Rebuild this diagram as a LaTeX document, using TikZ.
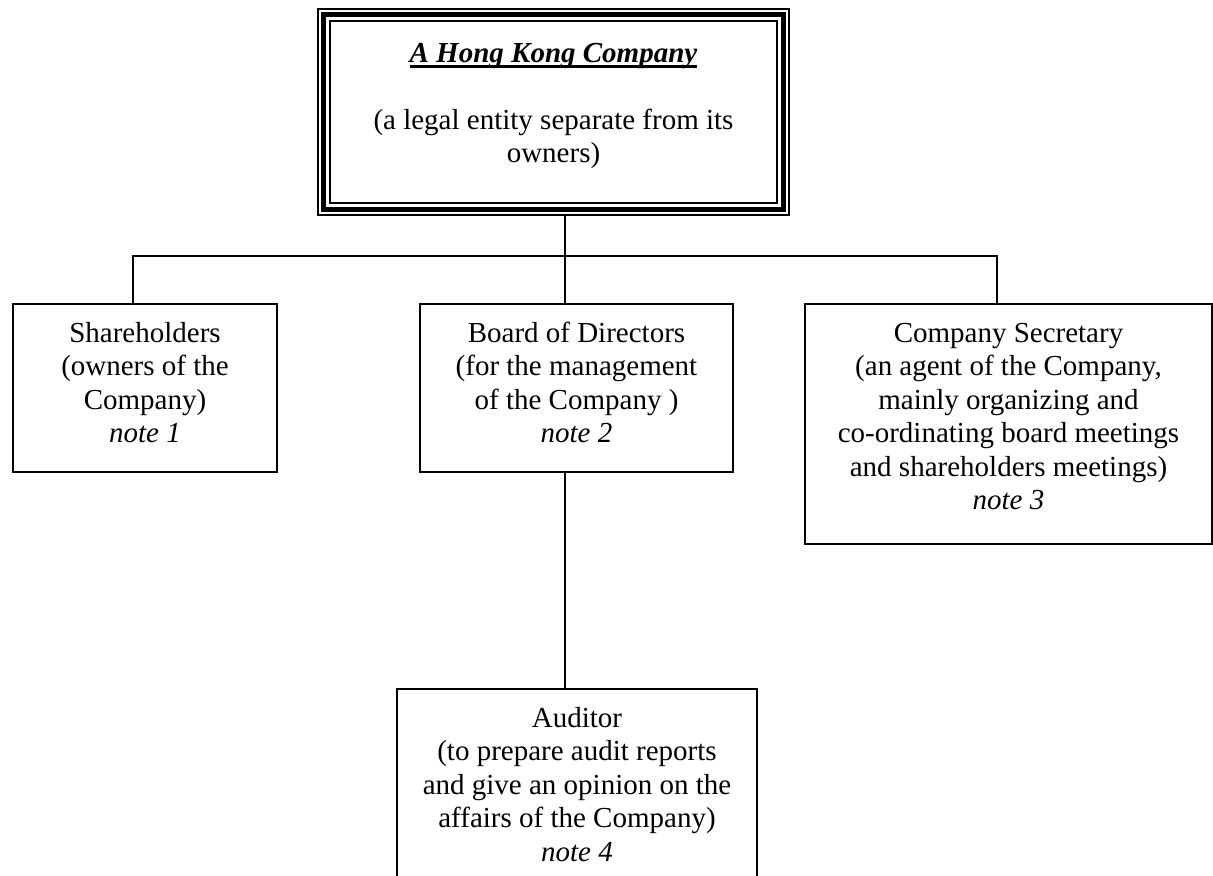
\documentclass[tikz,border=0pt]{standalone}
\usepackage{fontspec}
\setmainfont{Liberation Serif}
\newcommand\hkul[1]{\setbox0\hbox{#1}\rlap{\rule[-2.6pt]{\wd0}{1.3pt}}\box0}
\newcommand\topstrut{\rule{0pt}{10.5pt}}
\begin{document}
\begin{tikzpicture}[x=0.5pt,y=-0.5pt,
  box/.style={draw,line width=1pt,rectangle,inner sep=0pt},
  txt/.style={align=center,inner sep=0pt,anchor=north,font=\fontsize{14.5pt}{16.7pt}\selectfont},
  conn/.style={line width=1pt}]
\clip (0,0) rectangle (1213,876);
\fill[white] (0,0) rectangle (1213,876);

% top company box with triple border
\node[box,minimum width=235.5pt,minimum height=103pt] (hk) at (553.5,112) {};
\draw[line width=2.4pt] ([shift={(3.3pt,-3.3pt)}]hk.north west) rectangle ([shift={(-3.3pt,3.3pt)}]hk.south east);
\draw[line width=1pt] ([shift={(6.4pt,-6.4pt)}]hk.north west) rectangle ([shift={(-6.4pt,6.4pt)}]hk.south east);
\node[txt] (hkt) at (553.5,41) {\topstrut\hkul{\textbf{\textit{A Hong Kong Company}}}\\[16.7pt]
  (a legal entity separate from its\\owners)};

% second level boxes
\node[box,minimum width=132pt,minimum height=84pt] (sh) at (145,388) {};
\node[txt] (sht) at (145,321) {\topstrut Shareholders\\(owners of the\\Company)\\\textit{note 1}};

\node[box,minimum width=156.5pt,minimum height=84pt] (bd) at (576.5,388) {};
\node[txt] (bdt) at (576.5,321) {\topstrut Board of Directors\\(for the management\\of the Company )\\\textit{note 2}};

\node[box,minimum width=203.5pt,minimum height=120pt] (sec) at (1008.5,424) {};
\node[txt] (sect) at (1008.5,321) {\topstrut Company Secretary\\(an agent of the Company,\\mainly organizing and\\co-ordinating board meetings\\and shareholders meetings)\\\textit{note 3}};

% auditor box (runs off the bottom edge)
\node[box,minimum width=180pt,minimum height=105.5pt] (au) at (577,794.5) {};
\node[txt] (aut) at (577,706) {\topstrut Auditor\\(to prepare audit reports\\and give an opinion on the\\affairs of the Company)\\\textit{note 4}};

% connectors
\coordinate (j) at (565,256);
\coordinate (jl) at (133,256);
\coordinate (jr) at (997,256);
\draw[conn] (j |- hk.south) -- (j |- bd.north);
\draw[conn] (jl |- sh.north) -- (jl) -- (jr) -- (jr |- sec.north);
\draw[conn] (j |- bd.south) -- (j |- au.north);
\end{tikzpicture}
\end{document}
